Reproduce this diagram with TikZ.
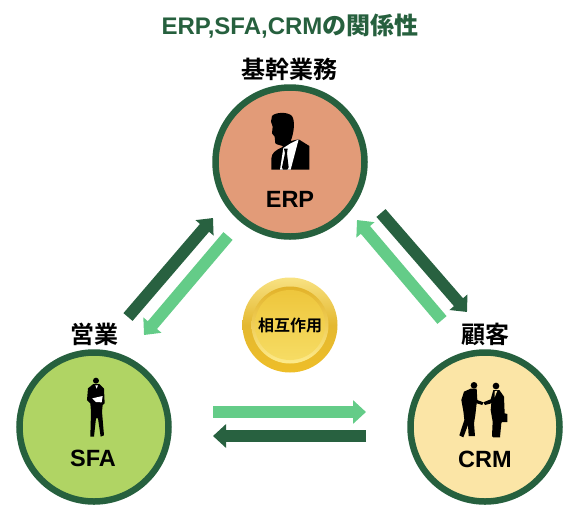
\documentclass[tikz,border=0pt]{standalone}
\usepackage{fontspec}
\setmainfont{Liberation Sans}[BoldFont={Liberation Sans Bold}]
\newfontfamily\jpfont{Noto Sans CJK JP Bold}
\usetikzlibrary{arrows.meta}
\definecolor{ringgreen}{RGB}{38,96,62}
\definecolor{darkarrow}{RGB}{40,97,64}
\definecolor{lightarrow}{RGB}{100,204,136}
\definecolor{erpfill}{RGB}{226,155,120}
\definecolor{sfafill}{RGB}{176,212,100}
\definecolor{crmfill}{RGB}{251,229,166}
\tikzset{
  hub/.style={circle,draw=ringgreen,line width=6.5pt,minimum size=149pt,inner sep=0pt},
  hublabel/.style={font=\fontsize{23.5}{28}\selectfont\bfseries,text=black},
  cjklabel/.style={font=\jpfont\fontsize{24}{28}\selectfont,text=black},
  flowdark/.style={draw=darkarrow,line width=12pt,-{Triangle[length=13pt,width=23pt]}},
  flowlight/.style={draw=lightarrow,line width=12pt,-{Triangle[length=13pt,width=23pt]}},
  silhouette/.style={fill=black,draw=none},
  zoomed/.style={x=0.3333pt,y=-0.3333pt}
}
\begin{document}
\begin{tikzpicture}[x=1pt,y=-1pt]
\useasboundingbox (0,0) rectangle (580,528);
\node[text=ringgreen,inner sep=0pt] (title) at (290,26) {\fontsize{24}{28}\selectfont\bfseries ERP,SFA,CRM{\jpfont の関係性}};

\node[hub,fill=erpfill] (erp) at (290,162) {};
\node[hub,fill=sfafill] (sfa) at (94,427) {};
\node[hub,fill=crmfill] (crm) at (485,427) {};

\node[cjklabel] (lerp) at (289,69) {基幹業務};
\node[cjklabel] (lsfa) at (94,334) {営業};
\node[cjklabel] (lcrm) at (485,334) {顧客};

\node[hublabel] (terp) at (290,199) {ERP};
\node[hublabel] (tsfa) at (93,458) {SFA};
\node[hublabel] (tcrm) at (485,459) {CRM};

% arrows
\coordinate (a1) at (128,317); \coordinate (a2) at (213,218);
\coordinate (b1) at (228,236); \coordinate (b2) at (144,335);
\coordinate (c1) at (381,213); \coordinate (c2) at (467,312);
\coordinate (d1) at (442,320); \coordinate (d2) at (357,220);
\coordinate (e1) at (213,412); \coordinate (e2) at (366,412);
\coordinate (f1) at (366,436); \coordinate (f2) at (213,436);
\draw[flowdark] (a1) -- (a2);
\draw[flowlight] (b1) -- (b2);
\draw[flowdark] (c1) -- (c2);
\draw[flowlight] (d1) -- (d2);
\draw[flowlight] (e1) -- (e2);
\draw[flowdark] (f1) -- (f2);

% coin
\shade[top color={rgb,255:red,248;green,226;blue,130},bottom color={rgb,255:red,238;green,190;blue,40},middle color={rgb,255:red,228;green,184;blue,48}] (290,325) circle (47.5);
\shade[top color={rgb,255:red,226;green,178;blue,40},bottom color={rgb,255:red,253;green,235;blue,140}] (290,325) circle (38.5);
\shade[top color={rgb,255:red,238;green,198;blue,60},bottom color={rgb,255:red,246;green,220;blue,100}] (290,325) circle (35);
\node[font=\jpfont\fontsize{16}{19}\selectfont,text=black] (coin) at (290,325) {相互作用};

% ERP person
\begin{scope}[shift={(200,80)},zoomed]
\fill[silhouette] (216,108) .. controls (225,97) and (262,94) .. (276,108) .. controls (286,122) and (282,160) .. (272,183)
 -- (296,178) -- (328,198) -- (328,269) -- (214,269) -- (214,236) .. controls (216,218) and (224,212) .. (250,200)
 .. controls (246,195) and (232,196) .. (226,190) -- (224,170) -- (216,160) -- (218,140) -- (213,125) -- cycle;
\fill[white] (250,204) -- (272,190) -- (296,178) -- (272,269) -- (240,269) -- cycle;
\fill[black] (252,206) -- (263,206) -- (261,220) -- (266,262) -- (262,269) -- (249,269) -- (246,262) -- (255,220) -- cycle;
\end{scope}

% SFA person
\begin{scope}[shift={(10,350)},zoomed]
\fill[silhouette] (258,92) circle (9);
\fill[silhouette] (250,102) -- (268,102) -- (282,116) -- (284,160) -- (278,165) -- (276,185) -- (282,256) -- (272,260) -- (264,205) -- (258,205) -- (252,260) -- (241,260) -- (243,185) -- (241,160) -- (231,150) -- (234,115) -- cycle;
\fill[white] (247,145) -- (278,138) -- (275,157) -- (258,156) -- cycle;
\fill[white] (256,106) -- (264,106) -- (260,116) -- cycle;
\end{scope}

% CRM people
\begin{scope}[shift={(400,350)},zoomed]
\fill[silhouette] (222,106) circle (10);
\fill[silhouette] (212,116) -- (230,116) -- (232,150) -- (250,157) -- (247,165) -- (230,160) -- (226,195) -- (222,220) -- (225,258) -- (206,258) -- (204,225) -- (190,262) -- (178,256) -- (193,210) -- (190,183) -- (184,150) -- (192,125) -- cycle;
\fill[silhouette] (288,108) circle (10);
\fill[silhouette] (280,120) -- (298,120) -- (312,140) -- (314,190) -- (322,192) -- (322,216) -- (306,216) -- (304,220) -- (300,262) -- (280,262) -- (276,258) -- (278,215) -- (272,180) -- (274,160) -- (255,165) -- (250,157) -- (272,148) -- cycle;
\fill[crmfill] (284,124) -- (292,122) -- (284,142) -- cycle;
\end{scope}
\end{tikzpicture}
\end{document}
